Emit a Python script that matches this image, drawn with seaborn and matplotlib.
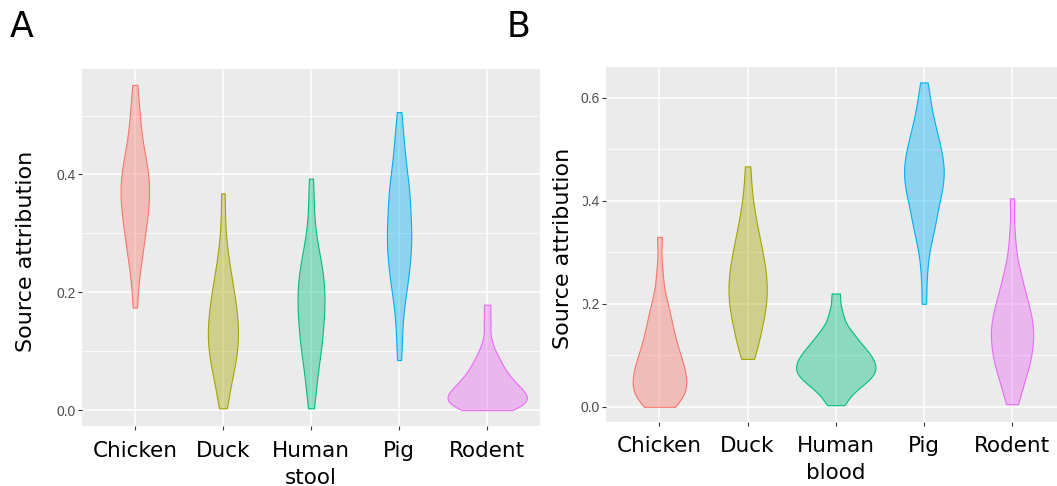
"""Source attribution violins for stool (A) and blood (B) isolates."""
import matplotlib
matplotlib.use('Agg')
import matplotlib.pyplot as plt
import matplotlib.colors as mcolors
from matplotlib.patches import Rectangle
from matplotlib.ticker import AutoMinorLocator
import pandas as pd
import seaborn as sns

# categories and colours (ggplot default hue palette)
sources_stool = ['Chicken', 'Duck', 'Human\nstool', 'Pig', 'Rodent']
sources_blood = ['Chicken', 'Duck', 'Human\nblood', 'Pig', 'Rodent']
palette = ['#F8766D', '#A3A500', '#00BF7D', '#00B0F6', '#E76BF3']

# panel A: attribution samples
a_chicken = [0.174, 0.212, 0.238, 0.256, 0.268, 0.279, 0.290, 0.302, 0.312,
             0.320, 0.327, 0.334, 0.342, 0.349, 0.357, 0.364, 0.370, 0.377,
             0.383, 0.390, 0.396, 0.404, 0.412, 0.420, 0.428, 0.436, 0.449,
             0.465, 0.481, 0.497, 0.522, 0.552]
a_duck = [0.003, 0.018, 0.038, 0.052, 0.062, 0.070, 0.078, 0.086, 0.094,
          0.101, 0.108, 0.114, 0.120, 0.127, 0.133, 0.140, 0.146, 0.152,
          0.159, 0.166, 0.174, 0.182, 0.190, 0.198, 0.206, 0.216, 0.229,
          0.242, 0.258, 0.278, 0.317, 0.368]
a_human = [0.003, 0.030, 0.047, 0.064, 0.081, 0.092, 0.101, 0.110, 0.119,
           0.128, 0.137, 0.146, 0.154, 0.161, 0.168, 0.175, 0.183, 0.190,
           0.197, 0.205, 0.212, 0.219, 0.226, 0.235, 0.244, 0.253, 0.263,
           0.274, 0.295, 0.316, 0.355, 0.393]
a_pig = [0.085, 0.122, 0.157, 0.180, 0.201, 0.211, 0.221, 0.232, 0.242,
         0.252, 0.262, 0.269, 0.277, 0.285, 0.292, 0.300, 0.307, 0.316,
         0.325, 0.334, 0.343, 0.353, 0.362, 0.371, 0.380, 0.389, 0.398,
         0.415, 0.433, 0.451, 0.469, 0.506]
a_rodent = [0.0, 0.001, 0.003, 0.006, 0.008, 0.010, 0.012, 0.015, 0.017,
            0.019, 0.022, 0.024, 0.026, 0.028, 0.031, 0.034, 0.036, 0.039,
            0.043, 0.047, 0.050, 0.054, 0.058, 0.063, 0.069, 0.075, 0.082,
            0.089, 0.099, 0.117, 0.148, 0.179]

# panel B
b_chicken = [0.0, 0.003, 0.009, 0.015, 0.021, 0.027, 0.031, 0.036, 0.041,
             0.045, 0.050, 0.056, 0.062, 0.068, 0.073, 0.079, 0.085, 0.091,
             0.096, 0.103, 0.112, 0.121, 0.130, 0.138, 0.147, 0.159, 0.172,
             0.185, 0.198, 0.222, 0.263, 0.330]
b_duck = [0.093, 0.105, 0.124, 0.135, 0.146, 0.157, 0.168, 0.176, 0.184,
          0.192, 0.200, 0.207, 0.215, 0.223, 0.230, 0.237, 0.244, 0.252,
          0.260, 0.268, 0.277, 0.285, 0.293, 0.302, 0.314, 0.326, 0.338,
          0.350, 0.370, 0.390, 0.421, 0.467]
b_human = [0.003, 0.014, 0.028, 0.035, 0.041, 0.046, 0.051, 0.055, 0.059,
           0.062, 0.066, 0.070, 0.073, 0.076, 0.080, 0.083, 0.087, 0.090,
           0.095, 0.099, 0.103, 0.107, 0.112, 0.116, 0.120, 0.129, 0.137,
           0.142, 0.150, 0.168, 0.187, 0.220]
b_pig = [0.200, 0.260, 0.300, 0.328, 0.342, 0.353, 0.365, 0.377, 0.389,
         0.401, 0.409, 0.416, 0.424, 0.431, 0.439, 0.446, 0.453, 0.459,
         0.466, 0.473, 0.481, 0.488, 0.495, 0.503, 0.514, 0.524, 0.534,
         0.544, 0.559, 0.579, 0.599, 0.630]
b_rodent = [0.005, 0.020, 0.038, 0.051, 0.063, 0.073, 0.080, 0.088, 0.095,
            0.102, 0.110, 0.117, 0.125, 0.132, 0.138, 0.144, 0.150, 0.157,
            0.164, 0.171, 0.179, 0.186, 0.193, 0.201, 0.212, 0.224, 0.236,
            0.247, 0.265, 0.289, 0.334, 0.405]


def long_table(names, samples):
    rows = []
    for name, vals in zip(names, samples):
        rows += [(name, v) for v in vals]
    return pd.DataFrame(rows, columns=['source', 'attribution'])


stool = long_table(sources_stool, [a_chicken, a_duck, a_human, a_pig, a_rodent])
blood = long_table(sources_blood, [b_chicken, b_duck, b_human, b_pig, b_rodent])

sns.set_style('darkgrid', {'axes.facecolor': '#EBEBEB', 'grid.color': 'white'})
plt.rcParams['font.family'] = ['DejaVu Sans']

W, H = 1057, 486
fig = plt.figure(figsize=(W / 100, H / 100), dpi=100)
fig.patch.set_facecolor('white')
ax_a = fig.add_axes([82 / W, 60 / H, (540 - 82) / W, 357 / H])
ax_b = fig.add_axes([605.7 / W, 64.3 / H, (W - 605.7) / W, 354.7 / H])


def draw(ax, df, names, ylim, xlim, yticks):
    sns.violinplot(data=df, x='source', y='attribution', hue='source',
                   order=names, hue_order=names, palette=palette,
                   density_norm='area', common_norm=True, cut=0, inner=None,
                   width=0.9, linewidth=0.8, bw_adjust=0.65, gridsize=200,
                   saturation=1, legend=False, ax=ax)
    for coll, col in zip(ax.collections, palette):
        coll.set_facecolor(mcolors.to_rgba(col, 0.4))
        coll.set_edgecolor(col)
    ax.set_ylim(*ylim)
    ax.set_xlim(*xlim)
    ax.set_yticks(yticks)
    ax.yaxis.set_minor_locator(AutoMinorLocator(2))
    ax.grid(which='major', color='white', linewidth=1.1)
    ax.grid(which='minor', color='white', linewidth=0.55)
    for s in ax.spines.values():
        s.set_visible(False)
    ax.tick_params(which='major', length=3, width=0.8, color='#333333',
                   bottom=True, left=True)
    ax.tick_params(which='minor', length=0)
    ax.tick_params(axis='y', labelsize=10, labelcolor='#4D4D4D', pad=1.5)
    ax.tick_params(axis='x', labelsize=15.5, labelcolor='black', pad=7.5)
    for lab in ax.get_yticklabels():
        lab.set_family('Liberation Sans')
    for lab in ax.get_xticklabels():
        lab.set_linespacing(1.45)
    ax.set_xlabel('')
    ax.set_ylabel('Source attribution', fontsize=16, color='black')


draw(ax_a, stool, sources_stool, (-0.027, 0.579), (-0.6, 4.6), [0.0, 0.2, 0.4])
draw(ax_b, blood, sources_blood, (-0.029, 0.66), (-0.61, 4.51), [0.0, 0.2, 0.4, 0.6])
ax_a.yaxis.set_label_coords(-0.1, 0.49)
ax_b.yaxis.set_label_coords(-0.0725, 0.49)

# the blood panel's axis title hides the leading zeros of two tick labels
fig.add_artist(Rectangle((572 / W, 1 - 360 / H), 11 / W, 205 / H,
                         transform=fig.transFigure, facecolor='white',
                         edgecolor='none', zorder=5))

fig.text(21.5 / W, 1 - 37 / H, 'A', fontsize=25, color='black',
         ha='center', va='baseline')
fig.text(518.5 / W, 1 - 37 / H, 'B', fontsize=25, color='black',
         ha='center', va='baseline')

fig.savefig('out.png', dpi=100)
